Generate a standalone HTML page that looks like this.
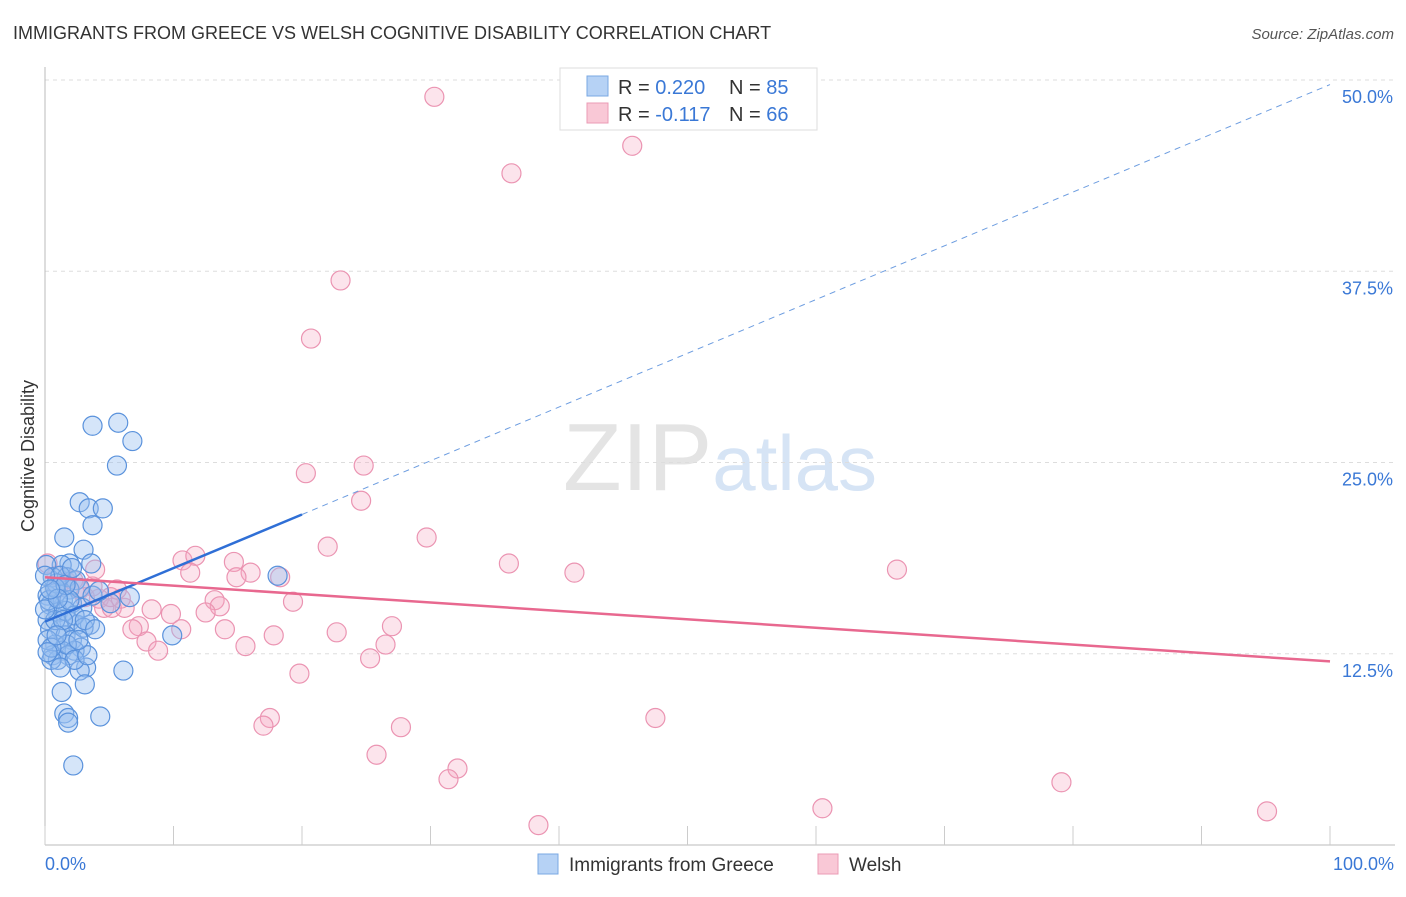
<!DOCTYPE html>
<html><head><meta charset="utf-8"><style>
body{margin:0;background:#fff;font-family:"Liberation Sans",sans-serif;}
svg text{font-family:"Liberation Sans",sans-serif;}
</style></head><body>
<svg id="chart" width="1406" height="892" xmlns="http://www.w3.org/2000/svg">
<text x="13" y="39" font-size="18" fill="#333">IMMIGRANTS FROM GREECE VS WELSH COGNITIVE DISABILITY CORRELATION CHART</text>
<text x="1394" y="39" font-size="15" fill="#555" text-anchor="end" font-style="italic">Source: ZipAtlas.com</text>
<text x="720" y="490" font-size="96" text-anchor="middle" fill="#e4e4e4" font-family="Liberation Serif">ZIP<tspan fill="#d6e4f5" font-family="Liberation Sans" font-size="78">atlas</tspan></text>
<text transform="translate(34,456) rotate(-90)" font-size="18" fill="#333" text-anchor="middle">Cognitive Disability</text>
<g id="grid"></g>
<g id="marks"></g>
<g>
<rect x="560" y="68" width="257" height="62" fill="#fff" stroke="#ddd"/>
<rect x="587" y="76" width="21" height="20" fill="#b6d2f5" stroke="#7aa8e3"/>
<rect x="587" y="103" width="21" height="20" fill="#f9c8d6" stroke="#eb9bb5"/>
<text x="618" y="94" font-size="20" fill="#333">R = <tspan fill="#3a78d6">0.220</tspan></text>
<text x="729" y="94" font-size="20" fill="#333">N = <tspan fill="#3a78d6">85</tspan></text>
<text x="618" y="121" font-size="20" fill="#333">R = <tspan fill="#3a78d6">-0.117</tspan></text>
<text x="729" y="121" font-size="20" fill="#333">N = <tspan fill="#3a78d6">66</tspan></text>
</g>
<g>
<rect x="538" y="854" width="20" height="20" fill="#b6d2f5" stroke="#7aa8e3"/>
<text x="569" y="871" font-size="19" fill="#333">Immigrants from Greece</text>
<rect x="818" y="854" width="20" height="20" fill="#f9c8d6" stroke="#eb9bb5"/>
<text x="849" y="871" font-size="19" fill="#333">Welsh</text>
</g>
</svg>
<script>
const xTickLabels=["0.0%","100.0%"];
const yTickValues=[12.5,25,37.5,50];
const yTickLabels=["12.5%","25.0%","37.5%","50.0%"];
const greeceX=[3.7,5.7,6.8,5.6,2.7,3.4,4.5,3.7,1.5,3.0,3.6,1.9,1.3,0.1,0.6,1.7,2.4,1.9,0.9,0.2,1.4,2.1,0.4,2.9,1.0,0.2,1.9,2.5,3.5,1.2,0.4,1.6,2.1,0.8,2.8,1.3,2.3,0.6,1.8,1.0,3.2,2.7,6.1,3.1,1.3,1.5,1.8,1.8,4.3,2.2,18.1,6.6,5.1,9.9,0.9,0.3,0.8,1.7,0.2,0.5,2.3,3.3,1.2,2.7,3.7,0.8,1.6,2.3,3.0,0.5,1.2,0.0,0.0,1.9,1.4,0.9,0.2,2.6,3.1,3.9,1.6,1.0,0.4,2.1,4.2];
const greeceY=[27.4,27.6,26.4,24.8,22.4,22.0,22.0,20.9,20.1,19.3,18.4,18.4,18.3,18.3,17.5,17.5,17.3,16.7,16.5,16.3,16.0,15.8,15.7,15.5,15.2,14.7,14.6,14.4,14.4,14.1,14.1,13.7,13.4,13.1,12.9,12.7,12.7,12.4,12.4,12.1,11.6,11.4,11.4,10.5,10.0,8.6,8.3,8.0,8.4,5.2,17.6,16.2,15.8,13.7,17.1,16.0,14.7,13.1,13.4,12.1,12.1,12.4,17.6,16.8,16.3,16.8,15.3,15.0,14.2,12.9,11.6,15.4,17.6,16.0,14.7,13.7,12.6,13.4,14.7,14.1,17.0,16.1,16.7,18.1,16.6];
const welshX=[30.3,45.7,36.3,23.0,20.7,20.3,24.8,24.6,29.7,22.0,36.1,41.2,66.3,10.7,11.7,11.3,14.7,16.0,14.9,18.3,19.3,13.2,13.6,12.5,9.8,8.3,7.3,6.8,10.6,14.0,17.8,22.7,27.0,7.9,8.8,15.6,26.5,25.3,19.8,17.5,17.0,27.7,47.5,25.8,32.1,31.4,79.1,60.5,95.1,38.4,4.6,4.2,5.2,6.2,5.1,5.9,3.7,2.7,1.7,0.9,0.2,1.0,3.1,2.2,3.9,5.6];
const welshY=[48.9,45.7,43.9,36.9,33.1,24.3,24.8,22.5,20.1,19.5,18.4,17.8,18.0,18.6,18.9,17.8,18.5,17.8,17.5,17.5,15.9,16.0,15.6,15.2,15.1,15.4,14.3,14.1,14.1,14.1,13.7,13.9,14.3,13.3,12.7,13.0,13.1,12.2,11.2,8.3,7.8,7.7,8.3,5.9,5.0,4.3,4.1,2.4,2.2,1.3,15.5,16.1,15.5,15.5,16.2,16.1,16.9,16.7,17.2,17.6,18.4,16.8,16.2,17.3,18.0,16.7];
const greeceTrend=[14.6,21.6];   // value at x=0, x=20
const greeceTrendExt=[21.6,49.7]; // value at x=20, x=100
const welshTrend=[17.5,12.0];    // value at x=0, x=100

const X0=45,X1=1330,Y0=845,Y50=80;
const sx=v=>X0+(X1-X0)*v/100;
const sy=v=>Y0-(Y0-Y50)*v/50;
const NS="http://www.w3.org/2000/svg";
function mk(tag,attrs,parent){const e=document.createElementNS(NS,tag);for(const k in attrs)e.setAttribute(k,attrs[k]);parent.appendChild(e);return e;}
const grid=document.getElementById('grid'),marks=document.getElementById('marks');

yTickValues.forEach((v,i)=>{
  const l=mk('line',{x1:X0,x2:1395,y1:sy(v),y2:sy(v),stroke:'#ddd','stroke-dasharray':'4,4'},grid);
  
  
  const t=mk('text',{x:1393,y:sy(v)+23,'font-size':18,fill:'#3a78d6','text-anchor':'end'},grid);
  t.textContent=yTickLabels[i];
  
  
});
const ya=mk('line',{x1:X0,x2:X0,y1:67,y2:Y0,stroke:'#bbb'},grid);


const xa=mk('line',{x1:X0,x2:1395,y1:Y0,y2:Y0,stroke:'#bbb'},grid);


for(let i=0;i<=10;i++){
  const t=mk('line',{x1:sx(i*10),x2:sx(i*10),y1:826,y2:Y0,stroke:'#ccc'},grid);
  
  
}
[[0,'start',45],[1,'end',1394]].forEach(([i,a,x])=>{
  const t=mk('text',{x:x,y:870,'font-size':18,fill:'#3a78d6','text-anchor':a},grid);
  t.textContent=xTickLabels[i];
  
  
});

welshX.forEach((x,i)=>{
  const c=mk('circle',{cx:sx(x),cy:sy(welshY[i]),r:9.5,fill:'rgba(244,165,192,0.3)',stroke:'#eb94b2','stroke-width':1.2},marks);
  
  
});
greeceX.forEach((x,i)=>{
  const c=mk('circle',{cx:sx(x),cy:sy(greeceY[i]),r:9.5,fill:'rgba(150,190,240,0.4)',stroke:'#5a92dc','stroke-width':1.2},marks);
  
  
});
const t1=mk('line',{x1:sx(0),y1:sy(greeceTrend[0]),x2:sx(20),y2:sy(greeceTrend[1]),stroke:'#2f6fd6','stroke-width':2.5},marks);


const t2=mk('line',{x1:sx(20),y1:sy(greeceTrendExt[0]),x2:sx(100),y2:sy(greeceTrendExt[1]),stroke:'#6d9de0','stroke-width':1,'stroke-dasharray':'6,5'},marks);


const t3=mk('line',{x1:sx(0),y1:sy(welshTrend[0]),x2:sx(100),y2:sy(welshTrend[1]),stroke:'#e8688f','stroke-width':2.5},marks);


</script>
</body></html>
